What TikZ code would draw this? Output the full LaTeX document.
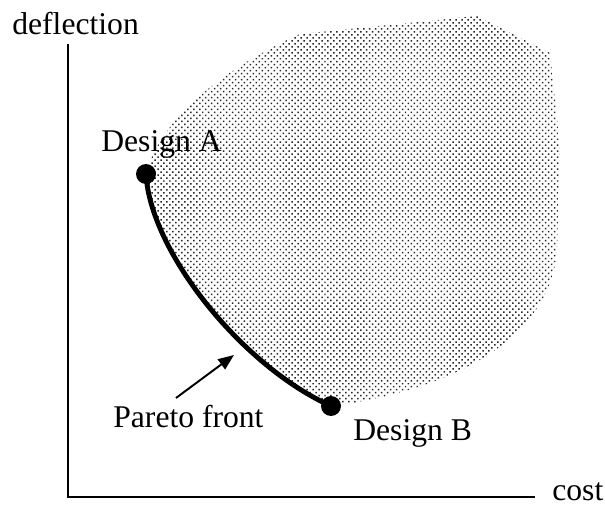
\documentclass[tikz,border=0pt]{standalone}
\usepackage{fontspec}
\setmainfont{Liberation Serif}
\usepackage{tikz}
\usetikzlibrary{arrows.meta, patterns.meta}

\begin{document}
\begin{tikzpicture}[
    x=0.02cm, y=-0.02cm,
    >={Triangle[length=9pt, width=7pt]},
    lbl/.style={inner sep=0pt, font=\fontsize{18}{22}\selectfont, anchor=base west},
    design/.style={circle, fill=black, inner sep=0pt, minimum size=0.4cm},
    axis/.style={line width=1.1pt},
]
    \useasboundingbox (0,0) rectangle (605,506);

    % axes
    \coordinate (origin) at (68,497);
    \coordinate (ytop) at (68,44);
    \coordinate (xend) at (535,497);
    \draw[axis] (ytop) -- (origin) -- (xend);
    \node[lbl] (ylbl) at (12,35) {deflection};
    \node[lbl] (xlbl) at (552,500) {cost};

    % feasible designs
    \coordinate (desApt) at (146,174);
    \coordinate (desBpt) at (331,406);
    \fill[pattern={Dots[distance=2.4pt, angle=45, radius=0.6pt]}, pattern color=black!85]
        (desApt) .. controls (150,250) and (240,365) .. (desBpt)
        .. controls (440,392) and (550,345) .. (557,250)
        -- (560,147) -- (550,53) -- (477,16) -- (300,34)
        .. controls (220,70) and (160,120) .. (desApt) -- cycle;

    % Pareto front
    \node[design] (desA) at (desApt) {};
    \node[design] (desB) at (desBpt) {};
    \draw[line width=2.8pt] (desA.center) .. controls (150,250) and (240,365) .. (desB.center);
    \node[lbl] (labA) at (101,152) {Design A};
    \node[lbl] (labB) at (353,440) {Design B};
    \node[lbl] (pareto) at (113,427) {Pareto front};
    \coordinate (tail) at (176,398);
    \coordinate (tip) at (234,355);
    \draw[->, line width=1.1pt] (tail) -- (tip);
\end{tikzpicture}
\end{document}
